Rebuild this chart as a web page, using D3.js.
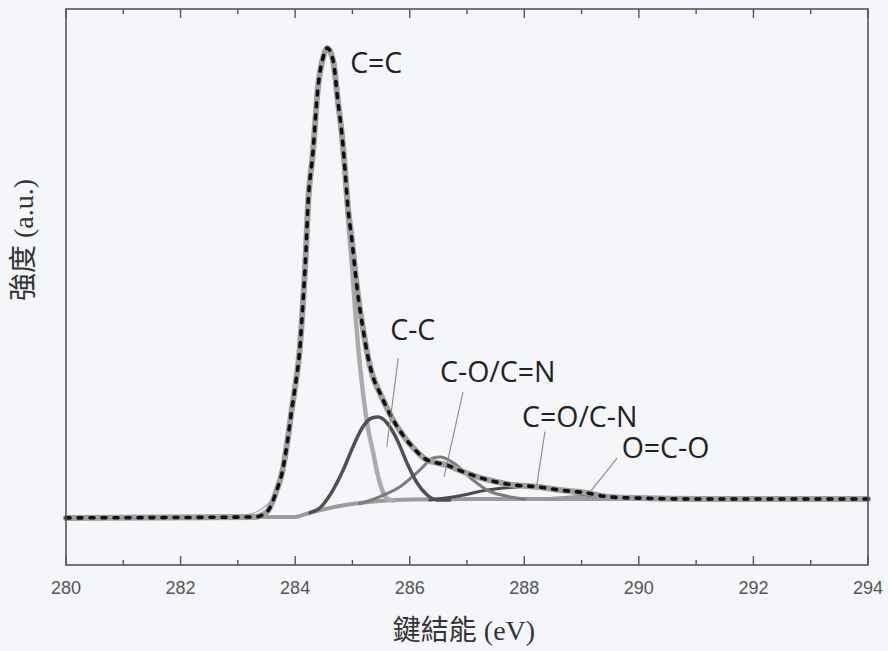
<!DOCTYPE html>
<html>
<head>
<meta charset="utf-8">
<script src="https://cdn.jsdelivr.net/npm/d3@7"></script>
<style>
  html, body { margin: 0; padding: 0; background: #f4f6fa; }
  svg { display: block; }
  .tick-label { font-family: "Liberation Sans", Arial, sans-serif; font-size: 18px; fill: #555; }
  .peak-label { font-family: "Open Sans", "Noto Sans", sans-serif; font-size: 28.5px; fill: #222; }
  .axis-title { font-family: "Liberation Serif", "Noto Sans CJK TC", serif; font-size: 28px; fill: #333; }
</style>
</head>
<body>
<div id="chart"></div>
<script>
'use strict';

// ── XPS C1s spectrum (eV, a.u.) ──

const X_TICKS = [280, 282, 284, 286, 288, 290, 292, 294];
const X_MINOR = [281, 283, 285, 287, 289, 291, 293];

// fitted envelope (dashed)
const envE = [280.0, 283.30, 283.51, 283.68, 283.77, 283.87, 283.94, 284.00, 284.08, 284.14, 284.19,
              284.22, 284.31, 284.40, 284.49, 284.56, 284.66, 284.75, 284.82, 284.87, 284.92, 284.99,
              285.04, 285.10, 285.18, 285.27, 285.36, 285.48, 285.71, 285.88, 286.06, 286.30, 286.65,
              286.93, 287.35, 287.80, 288.22, 288.62, 289.09, 289.44, 289.97, 291.07, 294.0];
const envI = [0, 0.2, 1.3, 5.9, 9.5, 16.6, 22.9, 27.8, 35.7, 46.3, 56.9,
              65.4, 77.5, 91.5, 97.8, 99.7, 97.2, 88.1, 80.9, 73.9, 66.0, 59.0,
              53.3, 46.9, 40.5, 34.2, 29.9, 26.5, 20.8, 17.6, 14.9, 12.3, 11.2,
              9.8, 8.1, 7.0, 6.6, 5.9, 5.3, 4.5, 4.2, 4.0, 4.0];

// Shirley background
const bgE = [280.0, 284.00, 284.26, 284.60, 284.90, 285.47, 286.05, 287.0, 294.0];
const bgI = [0, 0.2, 1.1, 2.1, 2.8, 3.6, 3.9, 4.0, 4.0];

// C=C component
const ccdE = [280.0, 283.30, 283.51, 283.68, 283.77, 283.87, 283.94, 284.00, 284.08, 284.14, 284.19,
              284.22, 284.31, 284.40, 284.49, 284.56, 284.66, 284.75, 284.82, 284.87, 284.90, 284.99,
              285.06, 285.13, 285.20, 285.27, 285.36, 285.43, 285.52, 285.62, 285.72];
const ccdI = [0, 0.2, 1.3, 5.9, 9.5, 16.6, 22.9, 27.8, 35.7, 46.3, 56.9,
              65.4, 77.5, 91.5, 97.8, 99.7, 97.2, 88.1, 80.9, 73.9, 67.5, 53.7,
              42.0, 32.5, 25.0, 19.1, 14.0, 9.8, 5.9, 4.0, 3.7];

// C-C component
const ccsE = [284.26, 284.43, 284.66, 284.84, 285.01, 285.18, 285.34, 285.45, 285.60, 285.78, 285.95,
              286.13, 286.30, 286.48, 286.70];
const ccsI = [1.1, 2.1, 5.9, 10.2, 15.1, 19.3, 21.2, 21.4, 20.2, 16.6, 11.7,
              7.4, 4.9, 3.8, 3.8];

// C-O/C=N component
const coE = [285.13, 285.48, 285.83, 286.18, 286.41, 286.53, 286.76, 287.10, 287.35, 287.66, 288.01];
const coI = [3.0, 4.5, 6.6, 10.2, 12.7, 12.9, 11.7, 8.1, 5.9, 4.7, 4.0];

// C=O/C-N component
const cnE = [286.35, 286.88, 287.35, 287.92, 288.22, 288.62, 289.09, 289.67, 290.19];
const cnI = [3.8, 4.7, 5.9, 6.6, 6.8, 5.9, 4.9, 4.2, 4.0];

// O=C-O component
const oco_E = [288.27, 288.80, 289.23, 289.67, 290.19];
const oco_I = [4.0, 4.5, 4.8, 4.5, 4.0];

// raw data peeking out from under the envelope on the low-energy side
const rawE = [282.92, 283.33, 283.51, 283.65, 283.74];
const rawI = [0.2, 1.3, 2.8, 4.9, 8.1];

// peak labels with leader lines (label anchor, leader start, leader end)
const LABELS = ['C=C', 'C-C', 'C-O/C=N', 'C=O/C-N', 'O=C-O'];
const labelE = [284.96, 285.66, 286.53, 287.96, 289.70];
const labelI = [94.4, 37.8, 28.9, 19.3, 12.7];
const leadFrom = [null, [285.80, 33.9], [286.93, 26.7], [288.36, 18.3], [289.62, 12.7]];
const leadTo   = [null, [285.60, 15.1], [286.60, 8.7],  [288.22, 7.0],  [289.15, 5.5]];

// ── layout ───────────────────────────────────────────────────
const totalW = 888, totalH = 651;
const margin = { top: 9, right: 20, bottom: 86, left: 66 };
const W = totalW - margin.left - margin.right;
const H = totalH - margin.top - margin.bottom;

const svg = d3.select('#chart').append('svg')
    .attr('width', totalW)
    .attr('height', totalH);

const chart = svg.append('g')
    .attr('transform', `translate(${margin.left},${margin.top})`);

const x = d3.scaleLinear().domain([280, 294]).range([0, W]);
const y = d3.scaleLinear().domain([-10, 108]).range([H, 0]);

const zip = (a, b) => a.map((v, i) => [v, b[i]]);
const line = d3.line()
    .x(d => x(d[0]))
    .y(d => y(d[1]))
    .curve(d3.curveMonotoneX);

// ── curves ───────────────────────────────────────────────────
function drawCurve(E, I, colour, width) {
    chart.append('path')
        .datum(zip(E, I))
        .attr('d', line)
        .attr('fill', 'none')
        .attr('stroke', colour)
        .attr('stroke-width', width)
        .attr('stroke-linejoin', 'round')
        .attr('stroke-linecap', 'round');
}

drawCurve(rawE, rawI, '#a9a9a9', 1.3);
drawCurve(bgE, bgI, '#9c9c9c', 4);
drawCurve(ccdE, ccdI, '#ababab', 4.5);
drawCurve(oco_E, oco_I, '#9a9a9a', 2.5);
drawCurve(cnE, cnI, '#4a4a4a', 3);
drawCurve(coE, coI, '#7c7c7c', 3);
drawCurve(ccsE, ccsI, '#505050', 3.5);

// envelope: grey underlay + black dashes
drawCurve(envE, envI, '#9f9f9f', 6);
chart.append('path')
    .datum(zip(envE, envI))
    .attr('d', line)
    .attr('fill', 'none')
    .attr('stroke', '#111')
    .attr('stroke-width', 3.6)
    .attr('stroke-linecap', 'round')
    .attr('stroke-dasharray', '4,8');

// ── labels + leader lines ───────────────────────────────────
LABELS.forEach((t, i) => {
    chart.append('text')
        .attr('class', 'peak-label')
        .attr('x', x(labelE[i]))
        .attr('y', y(labelI[i]))
        .text(t);
    if (leadFrom[i]) {
        chart.append('line')
            .attr('x1', x(leadFrom[i][0])).attr('y1', y(leadFrom[i][1]))
            .attr('x2', x(leadTo[i][0])).attr('y2', y(leadTo[i][1]))
            .attr('stroke', '#8a8a8a')
            .attr('stroke-width', 1.1);
    }
});

// ── frame and inward ticks ───────────────────────────────────
chart.append('rect')
    .attr('width', W).attr('height', H)
    .attr('fill', 'none')
    .attr('stroke', '#555')
    .attr('stroke-width', 1.6);

const tickG = chart.append('g').attr('stroke', '#555').attr('stroke-width', 1.4);
X_TICKS.forEach(v => {
    tickG.append('line').attr('x1', x(v)).attr('x2', x(v)).attr('y1', H).attr('y2', H - 9);
    tickG.append('line').attr('x1', x(v)).attr('x2', x(v)).attr('y1', 0).attr('y2', 9);
});
X_MINOR.forEach(v => {
    tickG.append('line').attr('x1', x(v)).attr('x2', x(v)).attr('y1', H).attr('y2', H - 5);
    tickG.append('line').attr('x1', x(v)).attr('x2', x(v)).attr('y1', 0).attr('y2', 5);
});

chart.selectAll('text.tick-label')
    .data(X_TICKS)
    .join('text')
    .attr('class', 'tick-label')
    .attr('x', d => x(d))
    .attr('y', H + 29)
    .attr('text-anchor', 'middle')
    .text(d => d);

// ── axis titles ──────────────────────────────────────────────
svg.append('text')
    .attr('class', 'axis-title')
    .attr('x', 464)
    .attr('y', 640)
    .attr('text-anchor', 'middle')
    .text('鍵結能 (eV)');

svg.append('text')
    .attr('class', 'axis-title')
    .attr('transform', 'translate(33,240) rotate(-90)')
    .attr('text-anchor', 'middle')
    .text('強度 (a.u.)');
</script>
</body>
</html>
